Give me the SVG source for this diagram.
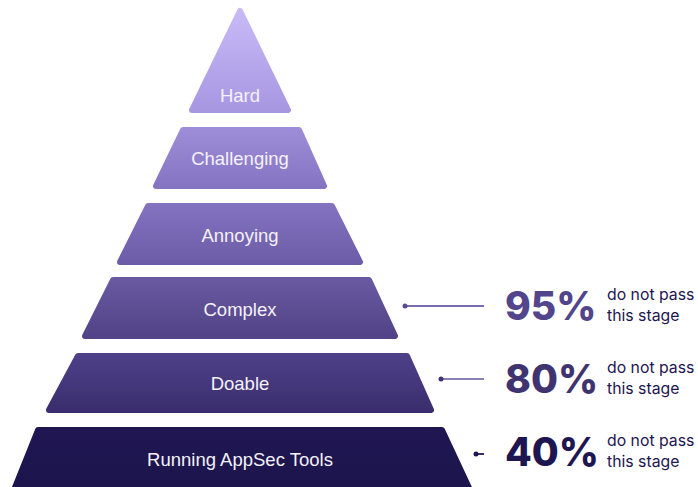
<svg xmlns="http://www.w3.org/2000/svg" width="698" height="487" viewBox="0 0 698 487">
  <defs>
    <linearGradient id="g1" x1="0" y1="0" x2="0" y2="1"><stop offset="0" stop-color="#c8baf7"/><stop offset="1" stop-color="#a797e2"/></linearGradient>
    <linearGradient id="g2" x1="0" y1="0" x2="0" y2="1"><stop offset="0" stop-color="#9d8dd8"/><stop offset="1" stop-color="#8574c2"/></linearGradient>
    <linearGradient id="g3" x1="0" y1="0" x2="0" y2="1"><stop offset="0" stop-color="#8372bf"/><stop offset="1" stop-color="#6d5ca7"/></linearGradient>
    <linearGradient id="g4" x1="0" y1="0" x2="0" y2="1"><stop offset="0" stop-color="#6959a0"/><stop offset="1" stop-color="#524388"/></linearGradient>
    <linearGradient id="g5" x1="0" y1="0" x2="0" y2="1"><stop offset="0" stop-color="#4e4088"/><stop offset="1" stop-color="#3b2e6e"/></linearGradient>
    <linearGradient id="g6" x1="0" y1="0" x2="0" y2="1"><stop offset="0" stop-color="#201752"/><stop offset="1" stop-color="#1c144c"/></linearGradient>
  </defs>
  <style>
    .tier { stroke-linejoin: round; stroke-width: 6; }
    .lbl { font-family: "Liberation Sans", Arial, sans-serif; font-size: 18.5px; fill: #f4f2fb; text-anchor: middle; }
    .pct { font-family: Inter, "Liberation Sans", sans-serif; font-size: 39px; font-weight: 800; }
    .note { font-family: Inter, "Liberation Sans", sans-serif; font-size: 15.8px; fill: #1e1650; }
    .lead { stroke-width: 2; fill: none; }
  </style>

  <!-- pyramid tiers, top to bottom -->
  <g id="hard">
    <polygon class="tier" points="240,11 288,110 192,110" fill="url(#g1)" stroke="url(#g1)"/>
    <text class="lbl" x="240" y="102">Hard</text>
  </g>
  <g id="challenging">
    <polygon class="tier" points="183,130 299,130 324,186 156,186" fill="url(#g2)" stroke="url(#g2)"/>
    <text class="lbl" x="240" y="165">Challenging</text>
  </g>
  <g id="annoying">
    <polygon class="tier" points="148,206 332,206 360,262 120,262" fill="url(#g3)" stroke="url(#g3)"/>
    <text class="lbl" x="240" y="242">Annoying</text>
  </g>
  <g id="complex">
    <polygon class="tier" points="113,280 369,280 395,336 85,336" fill="url(#g4)" stroke="url(#g4)"/>
    <text class="lbl" x="240" y="316">Complex</text>
  </g>
  <g id="doable">
    <polygon class="tier" points="78,356 407,356 431,410 49,410" fill="url(#g5)" stroke="url(#g5)"/>
    <text class="lbl" x="240" y="390">Doable</text>
  </g>
  <g id="running">
    <polygon class="tier" points="38,430 442,430 470,490 14,490" fill="url(#g6)" stroke="url(#g6)"/>
    <text class="lbl" x="240" y="466">Running AppSec Tools</text>
  </g>

  <!-- leader lines to the stats -->
  <g id="connectors">
    <line class="lead" x1="405" y1="306" x2="484" y2="306" stroke="#7a6cb0"/>
    <circle cx="405" cy="306" r="2.5" fill="#5a4c95"/>
    <line class="lead" x1="441" y1="379" x2="484" y2="379" stroke="#8a80b4"/>
    <circle cx="441" cy="379" r="2.5" fill="#3f3370"/>
    <line class="lead" x1="476" y1="454" x2="484" y2="454" stroke="#3a3168"/>
    <circle cx="476" cy="454" r="2.5" fill="#1e1650"/>
  </g>

  <!-- stats -->
  <g id="stat-95">
    <text class="pct" x="505" y="320" fill="#52458c">95%</text>
    <text class="note" x="607" y="300">do not pass</text>
    <text class="note" x="607" y="321">this stage</text>
  </g>
  <g id="stat-80">
    <text class="pct" x="505" y="393" fill="#3f3370">80%</text>
    <text class="note" x="607" y="373">do not pass</text>
    <text class="note" x="607" y="394">this stage</text>
  </g>
  <g id="stat-40">
    <text class="pct" x="505" y="466" fill="#1e1650">40%</text>
    <text class="note" x="607" y="446">do not pass</text>
    <text class="note" x="607" y="467">this stage</text>
  </g>
</svg>
